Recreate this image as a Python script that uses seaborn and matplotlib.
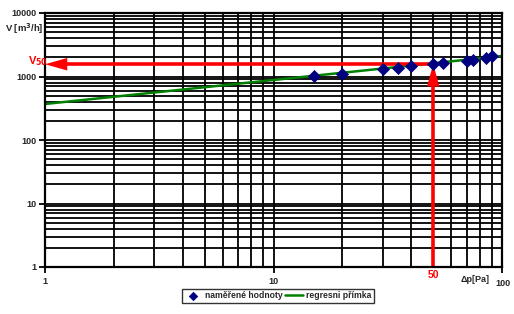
import matplotlib
matplotlib.use("Agg")
import matplotlib.pyplot as plt
import seaborn as sns
import numpy as np
import pandas as pd
from matplotlib.ticker import FixedLocator, FixedFormatter

# data
dp_values = [15, 20, 30, 35, 40, 50, 55, 70, 75, 85, 90]
v_values = [1030, 1105, 1300, 1360, 1460, 1555, 1650, 1755, 1820, 1980, 2080]
reg_C = 369.0
reg_n = 0.378
v50 = 1560
dp50 = 50
y_ticks = [1, 10, 100, 1000, 10000]
x_ticks = [1, 10, 100]

sns.set_style("white")
plt.rcParams['font.family'] = ['Liberation Sans', 'DejaVu Sans']
plt.rcParams['font.weight'] = 'bold'

fig = plt.figure(figsize=(5.14, 3.14), dpi=100)
ax = fig.add_axes([45/514, 47/314, 457/514, 254/314])
ax.set_xscale('log')
ax.set_yscale('log')
ax.set_xlim(1, 100)
ax.set_ylim(1, 10000)

# grid
for d in [1, 10]:
    for m in range(2, 10):
        ax.axvline(d*m, color='black', lw=1.3, zorder=1)
ax.axvline(10, color='black', lw=1.3, zorder=1)
for d in [1, 10, 100, 1000]:
    for m in range(1, 10):
        if d*m > 1:
            ax.axhline(d*m, color='black', lw=1.3, zorder=1)

# regression line
xr = np.array([1.0, 100.0])
df_reg = pd.DataFrame({'dp': xr, 'V': reg_C * xr**reg_n})
sns.lineplot(data=df_reg, x='dp', y='V', color='#008000', lw=1.8, ax=ax,
             label='regresni přímka', zorder=3)

# red lines with arrows
ax.plot([1.25, dp50], [v50, v50], color='#FF0000', lw=2.6, zorder=4, solid_capstyle='butt')
ax.annotate('', xy=(1.0, v50), xytext=(1.25, v50),
            arrowprops=dict(arrowstyle='-|>,head_length=1.6,head_width=0.45', color='#FF0000', lw=0, shrinkA=0, shrinkB=0), zorder=5)
ax.plot([dp50, dp50], [1, 700], color='#FF0000', lw=2.6, zorder=4, solid_capstyle='butt')
ax.annotate('', xy=(dp50, v50), xytext=(dp50, 700),
            arrowprops=dict(arrowstyle='-|>,head_length=1.6,head_width=0.45', color='#FF0000', lw=0, shrinkA=0, shrinkB=0), zorder=5)

# measured points
df = pd.DataFrame({'dp': dp_values, 'V': v_values})
sns.scatterplot(data=df, x='dp', y='V', marker='D', s=38, color='#000080',
                edgecolor='#000080', ax=ax, label='naměřené hodnoty', zorder=6)

for s in ax.spines.values():
    s.set_color('black')
    s.set_linewidth(1.6)
    s.set_zorder(7)

ax.yaxis.set_major_locator(FixedLocator(y_ticks))
ax.yaxis.set_major_formatter(FixedFormatter([str(t) for t in y_ticks]))
ax.yaxis.set_minor_locator(FixedLocator([]))
ax.xaxis.set_major_locator(FixedLocator(x_ticks))
ax.xaxis.set_major_formatter(FixedFormatter(['1', '10', '']))
ax.xaxis.set_minor_locator(FixedLocator([]))
ax.tick_params(axis='both', which='major', length=4, width=1.3, color='black',
               labelsize=6.5, direction='out', left=True, bottom=True)
for lbl in ax.get_xticklabels() + ax.get_yticklabels():
    lbl.set_fontweight('bold')
ax.tick_params(axis='x', pad=3)
ax.tick_params(axis='y', pad=2)
ax.set_xlabel('')
ax.set_ylabel('')

# extra texts
fig.text(503/514, 1 - 283/314, '100', ha='center', va='center', fontsize=6.5, fontweight='bold')
fig.text(475/514, 1 - 279/314, 'Δp[Pa]', ha='center', va='center', fontsize=6.5, fontweight='bold')
fig.text(433/514, 1 - 275/314, '50', ha='center', va='center', fontsize=7.5, fontweight='bold', color='#FF0000')
fig.text(5/514, 1 - 29/314, 'V [m$^3$/h]', ha='left', va='center', fontsize=6.8, fontweight='bold')
fig.text(28/514, 1 - 61/314, 'V$_{50}$', ha='left', va='center', fontsize=8, fontweight='bold', color='#FF0000')

# legend
handles, labels = ax.get_legend_handles_labels()
order = [labels.index('naměřené hodnoty'), labels.index('regresni přímka')]
leg = ax.legend([handles[i] for i in order], [labels[i] for i in order],
                loc='center', bbox_to_anchor=(233/457, -0.114), ncol=2,
                frameon=True, fancybox=False, edgecolor='black',
                handlelength=2.0, handletextpad=0.4, columnspacing=0.3,
                borderpad=0.25, markerscale=0.7, prop={'weight': 'bold', 'size': 6.2})
leg.get_frame().set_linewidth(1.0)

fig.savefig('out.png', dpi=100)
